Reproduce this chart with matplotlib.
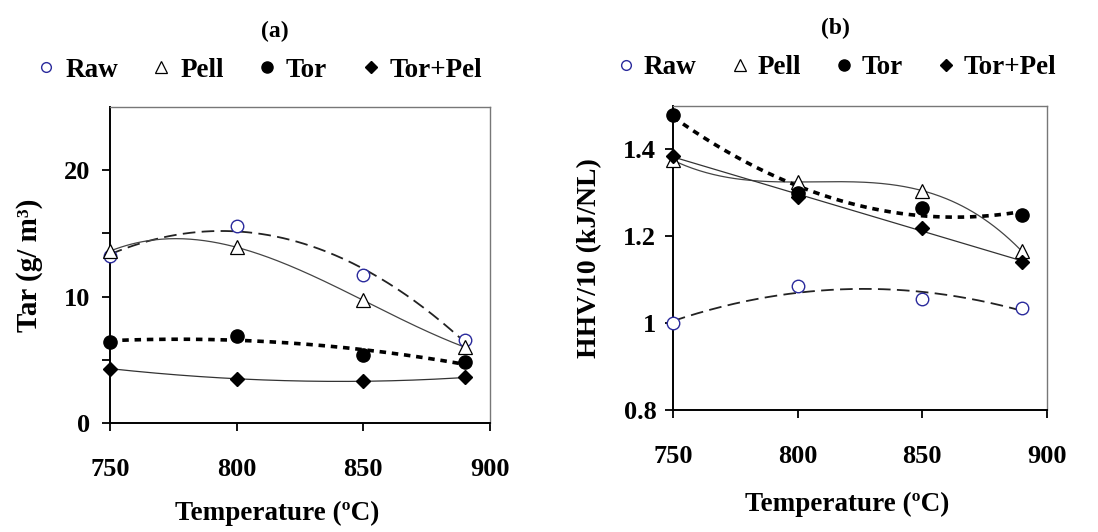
import numpy as np
import matplotlib
matplotlib.use("Agg")
import matplotlib.pyplot as plt
from matplotlib.lines import Line2D

plt.rcParams['font.family'] = ['Liberation Serif', 'DejaVu Serif']
plt.rcParams['font.weight'] = 'bold'

temp = [750, 800, 850, 890]

# (a) tar content, g/m3
tar_raw = [13.2, 15.6, 11.7, 6.6]
tar_pell = [13.6, 13.9, 9.7, 6.0]
tar_tor = [6.4, 6.9, 5.4, 4.8]
tar_torpel = [4.3, 3.5, 3.3, 3.6]

# (b) HHV/10, kJ/NL
hhv_raw = [1.0, 1.085, 1.055, 1.035]
hhv_pell = [1.375, 1.325, 1.305, 1.165]
hhv_tor = [1.48, 1.30, 1.265, 1.25]
hhv_torpel = [1.385, 1.29, 1.22, 1.14]

labels = ['Raw', 'Pell', 'Tor', 'Tor+Pel']
blue = '#2a2a9c'

# marker style and trend line style per series
styles = {
    'Raw': dict(marker='o', mfc='white', mec=blue, ms=9, mew=1.0),
    'Pell': dict(marker='^', mfc='white', mec='black', ms=10, mew=0.9),
    'Tor': dict(marker='o', mfc='black', mec='black', ms=9.5),
    'Tor+Pel': dict(marker='D', mfc='black', mec='black', ms=7.5),
}
lines = {
    'Raw': dict(color='#222222', lw=1.3, dashes=(7, 3.5)),
    'Pell': dict(color='#444444', lw=0.9, ls='-'),
    'Tor': dict(color='black', lw=2.6, dashes=(1.8, 1.6)),
    'Tor+Pel': dict(color='#333333', lw=0.9, ls='-'),
}

fig = plt.figure(figsize=(10.98, 5.32), dpi=100)
axa = fig.add_axes([0.1002, 0.2049, 0.3461, 0.5940])
axb = fig.add_axes([0.6129, 0.2293, 0.3407, 0.5715])


def panel(ax, series, degs):
    xs = np.linspace(750, 890, 200)
    for lab, y, d in zip(labels, series, degs):
        c = np.polyfit(temp, y, d)
        ax.plot(xs, np.polyval(c, xs), zorder=2, **lines[lab])
    for lab, y in zip(labels, series):
        ax.plot(temp, y, ls='none', zorder=3, clip_on=False, **styles[lab])
    ax.set_xlim(750, 900)
    ax.set_xticks([750, 800, 850, 900])
    for s in ['left', 'bottom']:
        ax.spines[s].set_linewidth(1.4)
        ax.spines[s].set_color('black')
    for s in ['top', 'right']:
        ax.spines[s].set_linewidth(1.0)
        ax.spines[s].set_color('#777777')
    ax.tick_params(direction='out', length=6, width=1.3, labelsize=19)
    ax.tick_params(axis='x', pad=19)
    ax.set_xlabel('Temperature (ºC)', fontsize=19.5, fontweight='bold')


panel(axa, [tar_raw, tar_pell, tar_tor, tar_torpel], [2, 3, 2, 3])
axa.set_ylim(0, 25)
axa.set_yticks([0, 5, 10, 15, 20])
axa.set_yticklabels(['0', '', '10', '', '20'])
axa.tick_params(axis='y', pad=8)
axa.set_ylabel('Tar (g/ m³)', fontsize=21, fontweight='bold')
axa.yaxis.set_label_coords(-0.176, 0.5)
axa.xaxis.set_label_coords(0.44, -0.245)

panel(axb, [hhv_raw, hhv_pell, hhv_tor, hhv_torpel], [2, 3, 2, 1])
axb.set_ylim(0.8, 1.5)
axb.set_yticks([0.8, 1.0, 1.2, 1.4])
axb.set_yticklabels(['0.8', '1', '1.2', '1.4'])
axb.tick_params(axis='y', pad=6)
axb.set_ylabel('HHV/10 (kJ/NL)', fontsize=20, fontweight='bold')
axb.yaxis.set_label_coords(-0.19, 0.5)
axb.xaxis.set_label_coords(0.465, -0.27)

# legends above each panel
leg_ms = {'Raw': 7, 'Pell': 8, 'Tor': 8, 'Tor+Pel': 6.5}
handles = []
for lab in labels:
    st = dict(styles[lab])
    st['ms'] = leg_ms[lab]
    handles.append(Line2D([], [], ls='none', **st))

fig.legend(handles, labels, loc='center', bbox_to_anchor=(0.235, 0.868),
           ncol=4, frameon=False, fontsize=19.5, handletextpad=0.25,
           columnspacing=1.15, handlelength=0.9)
fig.legend(handles, labels, loc='center', bbox_to_anchor=(0.7605, 0.873),
           ncol=4, frameon=False, fontsize=19.5, handletextpad=0.2,
           columnspacing=1.15, handlelength=0.9)

fig.text(0.250, 0.940, '(a)', ha='center', va='center', fontsize=17, fontweight='bold')
fig.text(0.761, 0.947, '(b)', ha='center', va='center', fontsize=17, fontweight='bold')

fig.savefig('out.png', dpi=100)
